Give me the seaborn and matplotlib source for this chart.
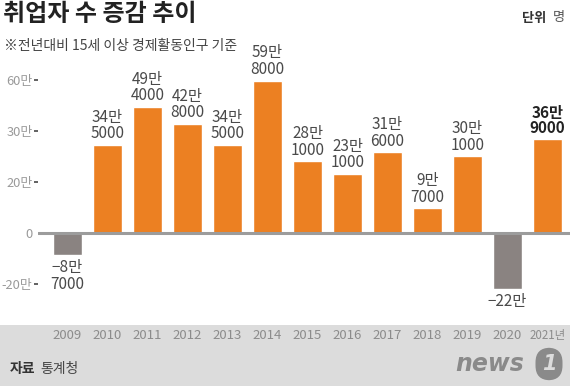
import matplotlib
matplotlib.use('Agg')
import matplotlib.pyplot as plt
from matplotlib.patches import Rectangle
import seaborn as sns
import pandas as pd

# ===== DATA =====
years = ['2009', '2010', '2011', '2012', '2013', '2014', '2015',
         '2016', '2017', '2018', '2019', '2020', '2021년']
change = [-87000, 345000, 494000, 428000, 345000, 598000, 281000,
          231000, 316000, 97000, 301000, -220000, 369000]   # 명
ytick_pos = [60, 40, 20, 0, -20]                           # 만 명
ytick_labels = ['60만', '30만', '20만', '0', '-20만']        # as printed on the source

ORANGE = '#ec8022'
GRAY = '#8a8381'
BAND = '#dcdcdc'

sns.set_theme(style='white')
plt.rcParams['font.family'] = ['Noto Sans CJK KR', 'DejaVu Sans']

df = pd.DataFrame({
    'year': years,
    'man': [v / 10000 for v in change],
    'sign': ['neg' if v < 0 else 'pos' for v in change],
})

fig = plt.figure(figsize=(5.7, 3.86), dpi=100)
fig.patch.set_facecolor('white')
fig.add_artist(Rectangle((0, 0), 1, 61 / 386, transform=fig.transFigure,
                         facecolor=BAND, edgecolor='none', zorder=-1))

ax = fig.add_axes([38 / 570, 61 / 386, 532 / 570, 263 / 386])
ax.set_facecolor('none')

sns.barplot(data=df, x='year', y='man', hue='sign',
            palette={'pos': ORANGE, 'neg': GRAY}, dodge=False,
            width=0.73, saturation=1, legend=False, ax=ax, zorder=2)

ax.axhline(0, color='#9c9c9c', lw=2.2, zorder=3)
ax.set_xlim(-0.7375, 12.5625)
ax.set_ylim(-36.1, 67.1)
for s in ax.spines.values():
    s.set_visible(False)
ax.set_xlabel('')
ax.set_ylabel('')

# value labels
for i, v in enumerate(change):
    sign = '−' if v < 0 else ''
    man, rest = divmod(abs(v), 10000)
    label = f'{sign}{man}만\n{rest}' if rest else f'{sign}{man}만'
    last = i == len(change) - 1
    ax.annotate(label, (i, v / 10000),
                xytext=(0, 2 if v > 0 else -3), textcoords='offset points',
                ha='center', va='bottom' if v > 0 else 'top',
                fontsize=11, linespacing=0.95,
                color='#222222' if last else '#4a4a4a',
                fontweight='bold' if last else 'normal')

# axes ticks
ax.set_yticks(ytick_pos, labels=ytick_labels)
ax.tick_params(axis='y', length=3, width=1.3, color='#555555', pad=1,
               labelsize=9.3, labelcolor='#9a9a9a', left=True)
ax.yaxis.get_major_ticks()[3].tick1line.set_visible(False)
ax.tick_params(axis='x', length=0, pad=3, labelsize=9.5, labelcolor='#8c8c8c')
ax.get_xticklabels()[-1].set_fontsize(8.3)

# header / footer texts
fig.text(3 / 570, 1 - 14 / 386, '취업자 수 증감 추이', fontsize=17.3,
         fontweight='bold', color='#222222', va='center', ha='left')
fig.text(4 / 570, 1 - 46 / 386, '※전년대비 15세 이상 경제활동인구 기준',
         fontsize=10, color='#444444', va='center', ha='left')
fig.text(522 / 570, 1 - 18 / 386, '단위', fontsize=9.5, fontweight='bold',
         color='#333333', va='center', ha='left')
fig.text(565 / 570, 1 - 18 / 386, '명', fontsize=9.5,
         color='#555555', va='center', ha='right')
fig.text(10 / 570, 1 - 369 / 386, '자료', fontsize=10, fontweight='bold',
         color='#333333', va='center', ha='left')
fig.text(40 / 570, 1 - 369 / 386, '통계청', fontsize=10,
         color='#444444', va='center', ha='left')

# news1 mark
fig.text(455 / 570, 1 - 364 / 386, 'news', fontsize=17, fontweight='bold',
         fontstyle='italic', color='#8a8a8a', va='center', ha='left',
         family='DejaVu Sans')
fig.text(549 / 570, 1 - 364 / 386, '1', fontsize=15, fontweight='bold',
         fontstyle='italic', color=BAND, va='center', ha='center',
         family='DejaVu Sans',
         bbox=dict(boxstyle='round,pad=0.3,rounding_size=0.7',
                   facecolor='#8a8a8a', edgecolor='none'))

fig.savefig('out.png', dpi=100)
